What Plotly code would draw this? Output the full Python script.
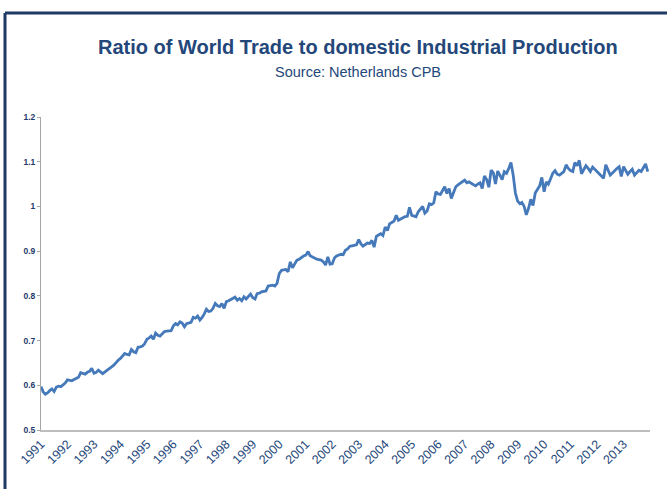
import pandas as pd
import plotly.graph_objects as go

# Monthly ratio values, Jan..Dec for each year
Y1991 = [0.597, 0.585, 0.580, 0.583, 0.588, 0.592, 0.586, 0.596, 0.598, 0.597, 0.601, 0.605]
Y1992 = [0.612, 0.611, 0.610, 0.613, 0.615, 0.618, 0.628, 0.626, 0.625, 0.629, 0.631, 0.638]
Y1993 = [0.627, 0.629, 0.634, 0.630, 0.626, 0.630, 0.633, 0.636, 0.641, 0.645, 0.651, 0.656]
Y1994 = [0.660, 0.666, 0.671, 0.669, 0.668, 0.680, 0.675, 0.673, 0.685, 0.686, 0.688, 0.693]
Y1995 = [0.703, 0.706, 0.710, 0.703, 0.717, 0.712, 0.710, 0.715, 0.720, 0.721, 0.722, 0.722]
Y1996 = [0.733, 0.738, 0.735, 0.742, 0.739, 0.731, 0.738, 0.740, 0.741, 0.752, 0.750, 0.755]
Y1997 = [0.746, 0.752, 0.759, 0.770, 0.765, 0.766, 0.772, 0.783, 0.778, 0.776, 0.783, 0.772]
Y1998 = [0.787, 0.789, 0.791, 0.795, 0.797, 0.790, 0.794, 0.789, 0.798, 0.793, 0.800, 0.804]
Y1999 = [0.796, 0.793, 0.805, 0.806, 0.809, 0.810, 0.811, 0.822, 0.823, 0.824, 0.822, 0.828]
Y2000 = [0.850, 0.857, 0.858, 0.859, 0.854, 0.876, 0.863, 0.872, 0.880, 0.882, 0.886, 0.889]
Y2001 = [0.891, 0.899, 0.890, 0.887, 0.884, 0.882, 0.881, 0.880, 0.876, 0.869, 0.887, 0.871]
Y2002 = [0.872, 0.885, 0.889, 0.891, 0.893, 0.892, 0.902, 0.905, 0.911, 0.912, 0.913, 0.914]
Y2003 = [0.926, 0.916, 0.911, 0.915, 0.918, 0.917, 0.924, 0.909, 0.933, 0.936, 0.939, 0.935]
Y2004 = [0.954, 0.946, 0.961, 0.964, 0.967, 0.980, 0.969, 0.972, 0.975, 0.977, 0.978, 0.998]
Y2005 = [0.980, 0.979, 0.977, 0.988, 0.995, 1.000, 0.985, 0.990, 1.006, 1.004, 1.008, 1.033]
Y2006 = [1.028, 1.027, 1.035, 1.044, 1.029, 1.040, 1.018, 1.030, 1.044, 1.048, 1.052, 1.055]
Y2007 = [1.059, 1.053, 1.055, 1.052, 1.048, 1.046, 1.050, 1.053, 1.040, 1.068, 1.060, 1.043]
Y2008 = [1.081, 1.075, 1.050, 1.079, 1.070, 1.060, 1.078, 1.074, 1.085, 1.098, 1.070, 1.030]
Y2009 = [1.012, 1.006, 1.009, 1.000, 0.981, 0.996, 1.016, 1.002, 1.030, 1.037, 1.046, 1.065]
Y2010 = [1.033, 1.055, 1.050, 1.062, 1.074, 1.080, 1.072, 1.070, 1.075, 1.078, 1.093, 1.085]
Y2011 = [1.080, 1.078, 1.098, 1.091, 1.103, 1.073, 1.082, 1.091, 1.085, 1.078, 1.088, 1.083]
Y2012 = [1.078, 1.074, 1.068, 1.063, 1.093, 1.080, 1.070, 1.075, 1.081, 1.085, 1.089, 1.067]
Y2013 = [1.089, 1.080, 1.072, 1.078, 1.083, 1.070, 1.076, 1.081, 1.078, 1.086, 1.095, 1.078]

YEARS = list(range(1991, 2014))
YEAR_LABELS = [str(y) for y in YEARS]
Y_TICKS = [0.5, 0.6, 0.7, 0.8, 0.9, 1.0, 1.1, 1.2]
Y_TICK_LABELS = ["0.5", "0.6", "0.7", "0.8", "0.9", "1", "1.1", "1.2"]

values = (Y1991 + Y1992 + Y1993 + Y1994 + Y1995 + Y1996 + Y1997 + Y1998 + Y1999 +
          Y2000 + Y2001 + Y2002 + Y2003 + Y2004 + Y2005 + Y2006 + Y2007 + Y2008 +
          Y2009 + Y2010 + Y2011 + Y2012 + Y2013)
dates = pd.date_range("1991-01-01", periods=len(values), freq="MS")
tick_dates = [pd.Timestamp(f"{y}-01-01") for y in YEARS]

NAVY = "#1F3B64"
TEXT = "#24477A"

fig = go.Figure()
fig.add_trace(go.Scatter(x=dates, y=values, mode="lines",
                         line=dict(color="#4579BA", width=2.8), showlegend=False))

L, R, T, B = 41, 17, 117, 59
W, H = 667, 489
pw, ph = W - L - R, H - T - B

def px(xp):
    return (xp - L) / pw

def py(yp):
    return (H - B - yp) / ph

fig.update_layout(
    width=W, height=H,
    margin=dict(l=L, r=R, t=T, b=B),
    paper_bgcolor="white", plot_bgcolor="white",
    font=dict(family="Liberation Sans, Arial, sans-serif"),
    xaxis=dict(range=[pd.Timestamp("1991-01-01"), pd.Timestamp("2014-01-01")],
               tickvals=tick_dates, ticktext=YEAR_LABELS, tickangle=-45,
               tickfont=dict(size=12.5, color=TEXT),
               showgrid=False, zeroline=False, showline=True,
               linecolor="#BDBDBD", linewidth=2, ticks="", automargin=False),
    yaxis=dict(range=[0.5, 1.2], tickvals=Y_TICKS, ticktext=Y_TICK_LABELS,
               tickfont=dict(size=8.5, color="#1F3B6A", weight="bold"),
               showgrid=False, zeroline=False, showline=True,
               linecolor="#A6A6A6", linewidth=1, ticks="outside",
               ticklen=3, tickcolor="#A6A6A6", automargin=False),
    annotations=[
        dict(text="<b>Ratio of World Trade to domestic Industrial Production</b>",
             xref="paper", yref="paper", x=px(357.5), y=py(47),
             xanchor="center", yanchor="middle", showarrow=False,
             font=dict(size=20, color=TEXT, family="Liberation Sans, Arial, sans-serif")),
        dict(text="Source: Netherlands CPB",
             xref="paper", yref="paper", x=px(357.5), y=py(72),
             xanchor="center", yanchor="middle", showarrow=False,
             font=dict(size=14.5, color=TEXT, family="Liberation Sans, Arial, sans-serif")),
    ],
    shapes=[
        dict(type="line", xref="paper", yref="paper", x0=px(5), x1=px(5),
             y0=py(13), y1=py(500), line=dict(color=NAVY, width=3)),
        dict(type="line", xref="paper", yref="paper", x0=px(5), x1=px(680),
             y0=py(13), y1=py(13), line=dict(color=NAVY, width=3)),
    ],
)

fig.write_html("out.html", config={"displayModeBar": False},
               post_script="document.body.style.margin='0';")
